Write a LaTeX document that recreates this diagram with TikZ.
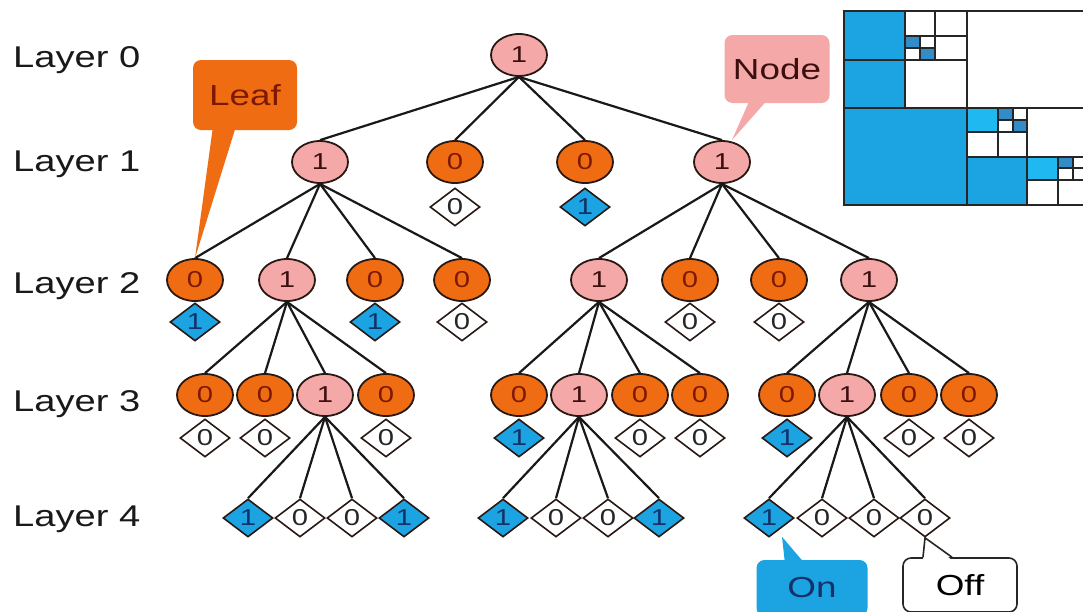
\documentclass[tikz,border=0pt]{standalone}
\usepackage{fontspec}
\setmainfont{Liberation Sans}[FakeStretch=1.27]
\usetikzlibrary{shapes.geometric}

\definecolor{tOrange}{RGB}{240,108,18}
\definecolor{tPink}{RGB}{245,168,168}
\definecolor{tBlue}{RGB}{28,163,226}
\definecolor{tBlueDk}{RGB}{50,140,200}
\definecolor{tCyan}{RGB}{32,184,240}
\definecolor{tBrown}{RGB}{125,25,0}
\definecolor{tDark}{RGB}{60,15,15}
\definecolor{tNavy}{RGB}{20,50,105}
\definecolor{tEdge}{RGB}{40,25,20}

\tikzset{
  digit/.style={font=\fontsize{23}{25}\selectfont},
  inner/.style={ellipse, draw=tEdge, line width=1.8pt, fill=tPink, text=tDark,
    minimum width=56pt, minimum height=42pt, inner sep=0pt, digit},
  leafnode/.style={inner, fill=tOrange, text=tBrown},
  onbit/.style={diamond, draw=tEdge, line width=1.6pt, fill=tBlue, text=tNavy,
    minimum width=50pt, minimum height=38pt, inner sep=0pt, digit},
  offbit/.style={onbit, fill=white, text=black!85},
  link/.style={line width=2.2pt, black!90},
  layerlbl/.style={anchor=base west, font=\fontsize{30}{32}\selectfont, text=black!90, inner sep=0pt},
  callbox/.style={rounded corners=8pt, inner sep=0pt, font=\fontsize{29}{31}\selectfont},
  grid/.style={line width=2.2pt, black!85}
}

\begin{document}
\begin{tikzpicture}[x=1pt, y=-1pt]
\useasboundingbox (0,0) rectangle (1083,611);
\clip (0,0) rectangle (1083,611);
\fill[white] (0,0) rectangle (1083,611);

% ---- quadtree matrix ----
\fill[tBlue] (844,11) rectangle (905,108);
\fill[tBlue] (844,108) rectangle (967,205);
\fill[tBlue] (967,157) rectangle (1027,205);
\fill[tBlueDk] (905,36) rectangle (920,48);
\fill[tBlueDk] (920,48) rectangle (935,60);
\fill[tCyan] (967,108) rectangle (998,132);
\fill[tBlueDk] (998,108) rectangle (1013,120);
\fill[tBlueDk] (1013,120) rectangle (1027,132);
\fill[tCyan] (1027,157) rectangle (1058,180);
\fill[tBlueDk] (1058,157) rectangle (1073,168);
\draw[grid] (844,11) rectangle (1100,205);
\draw[grid] (967,11) -- (967,205) (844,108) -- (1100,108);
\draw[grid] (905,11) -- (905,108) (844,60) -- (967,60);
\draw[grid] (935,11) -- (935,60) (905,36) -- (967,36);
\draw[grid] (920,36) -- (920,60) (905,48) -- (935,48);
\draw[grid] (1027,108) -- (1027,205) (967,157) -- (1100,157);
\draw[grid] (998,108) -- (998,157) (967,132) -- (1027,132);
\draw[grid] (1013,108) -- (1013,132) (998,120) -- (1027,120);
\draw[grid] (1058,157) -- (1058,205) (1027,180) -- (1100,180);
\draw[grid] (1073,157) -- (1073,180) (1058,168) -- (1100,168);

% ---- layer labels ----
\node[layerlbl] (lay0) at (13,67) {Layer 0};
\node[layerlbl] (lay1) at (13,171) {Layer 1};
\node[layerlbl] (lay2) at (13,293) {Layer 2};
\node[layerlbl] (lay3) at (13,411) {Layer 3};
\node[layerlbl] (lay4) at (13,526) {Layer 4};

% ---- tree nodes ----
\node[inner] (r) at (519,55) {1};

\node[inner]    (a) at (320,162) {1};
\node[leafnode] (b) at (455,162) {0};
\node[leafnode] (c) at (585,162) {0};
\node[inner]    (d) at (722,162) {1};
\node[offbit] (bv) at (455,207) {0};
\node[onbit]  (cv) at (585,207) {1};

\node[leafnode] (a1) at (195,280) {0};
\node[inner]    (a2) at (287,280) {1};
\node[leafnode] (a3) at (375,280) {0};
\node[leafnode] (a4) at (462,280) {0};
\node[inner]    (d1) at (599,280) {1};
\node[leafnode] (d2) at (690,280) {0};
\node[leafnode] (d3) at (779,280) {0};
\node[inner]    (d4) at (869,280) {1};
\node[onbit]  (a1v) at (195,322) {1};
\node[onbit]  (a3v) at (375,322) {1};
\node[offbit] (a4v) at (462,322) {0};
\node[offbit] (d2v) at (690,322) {0};
\node[offbit] (d3v) at (779,322) {0};

\node[leafnode] (p1) at (205,395) {0};
\node[leafnode] (p2) at (265,395) {0};
\node[inner]    (p3) at (325,395) {1};
\node[leafnode] (p4) at (386,395) {0};
\node[leafnode] (q1) at (519,395) {0};
\node[inner]    (q2) at (579,395) {1};
\node[leafnode] (q3) at (640,395) {0};
\node[leafnode] (q4) at (700,395) {0};
\node[leafnode] (s1) at (787,395) {0};
\node[inner]    (s2) at (847,395) {1};
\node[leafnode] (s3) at (909,395) {0};
\node[leafnode] (s4) at (969,395) {0};
\node[offbit] (p1v) at (205,438) {0};
\node[offbit] (p2v) at (265,438) {0};
\node[offbit] (p4v) at (386,438) {0};
\node[onbit]  (q1v) at (519,438) {1};
\node[offbit] (q3v) at (640,438) {0};
\node[offbit] (q4v) at (700,438) {0};
\node[onbit]  (s1v) at (787,438) {1};
\node[offbit] (s3v) at (909,438) {0};
\node[offbit] (s4v) at (969,438) {0};

\node[onbit]  (e1) at (248,518) {1};
\node[offbit] (e2) at (300,518) {0};
\node[offbit] (e3) at (352,518) {0};
\node[onbit]  (e4) at (404,518) {1};
\node[onbit]  (f1) at (503,518) {1};
\node[offbit] (f2) at (556,518) {0};
\node[offbit] (f3) at (608,518) {0};
\node[onbit]  (f4) at (659,518) {1};
\node[onbit]  (g1) at (769,518) {1};
\node[offbit] (g2) at (822,518) {0};
\node[offbit] (g3) at (874,518) {0};
\node[offbit] (g4) at (925,518) {0};

% ---- connectors ----
\foreach \k in {a,b,c,d} \draw[link] (r.south) -- (\k.north);
\foreach \k in {a1,a2,a3,a4} \draw[link] (a.south) -- (\k.north);
\foreach \k in {d1,d2,d3,d4} \draw[link] (d.south) -- (\k.north);
\foreach \k in {p1,p2,p3,p4} \draw[link] (a2.south) -- (\k.north);
\foreach \k in {q1,q2,q3,q4} \draw[link] (d1.south) -- (\k.north);
\foreach \k in {s1,s2,s3,s4} \draw[link] (d4.south) -- (\k.north);
\foreach \k in {e1,e2,e3,e4} \draw[link] (p3.south) -- (\k.north);
\foreach \k in {f1,f2,f3,f4} \draw[link] (q2.south) -- (\k.north);
\foreach \k in {g1,g2,g3,g4} \draw[link] (s2.south) -- (\k.north);

% ---- callouts ----
\node[callbox, fill=tOrange, text=tBrown, minimum width=104pt, minimum height=70pt] (leafnote) at (245,95) {Leaf};
\fill[tOrange] ([xshift=-32pt,yshift=4pt]leafnote.south) -- (a1.north) -- ([xshift=-9pt,yshift=4pt]leafnote.south) -- cycle;

\node[callbox, fill=tPink, text=tDark, minimum width=105pt, minimum height=68pt] (nodenote) at (777,69) {Node};
\fill[tPink] ([xshift=-27pt,yshift=4pt]nodenote.south) -- ([xshift=10pt]d.north) -- ([xshift=-9pt,yshift=4pt]nodenote.south) -- cycle;

\node[callbox, fill=tBlue, text=tNavy, minimum width=111pt, minimum height=56pt] (onnote) at (812,588) {On};
\fill[tBlue] ([xshift=-27pt,yshift=-4pt]onnote.north) -- ([xshift=13pt,yshift=1pt]g1.south) -- ([xshift=-7pt,yshift=-4pt]onnote.north) -- cycle;

\node[callbox, draw=black!85, line width=1.6pt, fill=white, text=black, minimum width=114pt, minimum height=54pt] (offnote) at (960,585) {Off};
\fill[white] ([xshift=-37pt,yshift=-3pt]offnote.north) -- (g4.south) -- ([xshift=-8pt,yshift=-3pt]offnote.north) -- cycle;
\draw[black!85, line width=1.6pt, line join=round] ([xshift=-37pt]offnote.north) -- (g4.south) -- ([xshift=-8pt]offnote.north);
\end{tikzpicture}
\end{document}
